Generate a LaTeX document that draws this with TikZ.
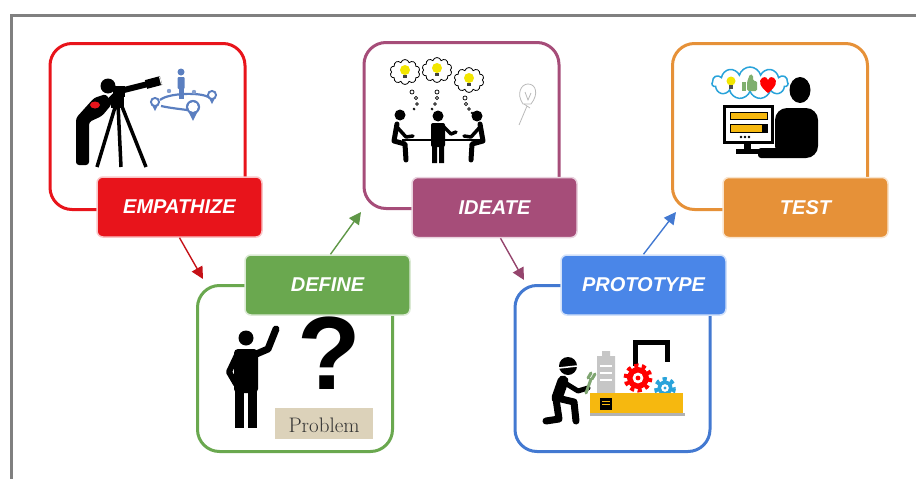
\documentclass[tikz,border=0pt]{standalone}
\usepackage{fontspec}
\usepackage{tikz}
\usetikzlibrary{arrows.meta,shapes.symbols}
\newfontfamily\tagfont{Liberation Sans}
\definecolor{empred}{HTML}{E8141B}
\definecolor{defgreen}{HTML}{6AA84F}
\definecolor{idepurple}{HTML}{A64D79}
\definecolor{problue}{HTML}{4A86E8}
\definecolor{tstorange}{HTML}{E69138}
\definecolor{pinblue}{HTML}{5B7FC0}
\definecolor{bulbyellow}{HTML}{F2E600}
\definecolor{machyellow}{HTML}{F6B80F}
\definecolor{gearblue}{HTML}{29A3DA}
\definecolor{thumbgreen}{HTML}{7FAF6E}
\definecolor{paper}{HTML}{DCD2BA}
\newcommand\mappin[3]{
	\fill[pinblue] (#1-#3*0.95,#2+#3*0.4) -- (#1,#2+#3*2.3) -- (#1+#3*0.95,#2+#3*0.4) -- cycle;
	\fill[pinblue] (#1,#2) circle (#3+1.1);
	\fill[white] (#1,#2) circle (#3-1.1);
}
\newcommand\cogwheel[4]{
	\draw[#4,line width=5,dash pattern=on 4pt off 3.5pt] (#1,#2) circle (#3);
	\fill[#4] (#1,#2) circle (#3-1);
	\fill[white] (#1,#2) circle (#3*0.45);
	\fill[#4] (#1,#2) circle (#3*0.2);
}
\newcommand\idea[2]{
	\fill[bulbyellow] (#1,#2) circle (5);
	\fill[black!75] (#1-2,#2+4.5) rectangle (#1+2,#2+8);
}
\begin{document}
\begin{tikzpicture}[x=1pt,y=-1pt]
	\tikzstyle{phasebox}=[draw,line width=3pt,rounded corners=22pt,minimum width=195pt,minimum height=166pt,inner sep=0pt]
	\tikzstyle{phasetag}=[rounded corners=6pt,minimum width=165pt,minimum height=60pt,line width=1.5pt,text=white,font=\tagfont\bfseries\itshape\fontsize{20}{24}\selectfont]
	\tikzstyle{flow}=[line width=1.4pt,-{Triangle[length=12pt,width=12pt]}]
	\useasboundingbox (0,0) rectangle (916,479);
	\draw[gray,line width=3pt] (11.5,479) -- (11.5,15.5) -- (916,15.5);

	\node[phasebox,draw=empred] (empbox) at (147.5,126.5) {};
	\node[phasebox,draw=defgreen] (defbox) at (295,368.5) {};
	\node[phasebox,draw=idepurple] (idebox) at (461.5,125.5) {};
	\node[phasebox,draw=problue!90!black] (probox) at (612.5,368.5) {};
	\node[phasebox,draw=tstorange] (tstbox) at (770,126.5) {};

	\fill (108,86) circle (7.5);
	\fill[rounded corners=3pt] (76,165) -- (76,118) -- (94,98) -- (106,94) -- (112,104) -- (102,116) -- (89,122) -- (89,165) -- cycle;
	\fill[empred] (95,105) ellipse (5 and 3.5);
	\draw[line width=5pt,line cap=round] (100,110) -- (110,100) -- (116,94);
	\fill (113,86) rectangle (125,97);
	\draw[line width=6pt] (120,91) -- (160,81);
	\draw[line width=9pt] (146,84.5) -- (161,80.5);
	\draw[white,line width=1pt] (159.5,76.5) -- (161.5,84.5);
	\fill (111,96) rectangle (124,108);
	\draw[line width=3.5pt] (116,104) -- (97,167) (118,104) -- (121,167) (121,104) -- (146,167);
	\fill[pinblue] (181,72) circle (3.5);
	\fill[pinblue,rounded corners=1pt] (177.5,77) rectangle (184.5,89);
	\fill[pinblue] (178.5,88) rectangle (183.5,99);
	\draw[pinblue,line width=2.2pt] (160,100) .. controls (168,93) and (200,92) .. (208,97);
	\draw[pinblue,line width=2.2pt] (161,106) .. controls (170,108) and (180,109) .. (187,110);
	\fill[pinblue!75] (169,91) circle (2.2) (194,92) circle (2.2);
	\mappin{193}{107}{6}
	\mappin{155}{102}{4}
	\mappin{212}{95}{4}

	\fill (246,338) circle (7.5);
	\fill[rounded corners=4pt] (234,349) rectangle (258,393);
	\fill (235,388) rectangle (244,428);
	\fill (248,388) rectangle (257,428);
	\draw[line width=7pt,line cap=round,line join=round] (254,355) -- (268,349) -- (276,329);
	\draw[line width=6pt,line cap=round,line join=round] (237,355) -- (229,372) -- (236,384);
	\node[inner sep=0pt,font=\tagfont\bfseries\fontsize{104}{106}\selectfont] (qmark) at (329,353) {?};
	\fill[paper] (275,407.5) rectangle (373,438.5);
	\node[inner sep=0pt,font=\fontsize{21}{23}\selectfont,text=black!80] (prob) at (324,425) {Problem};

	\node[cloud,draw,fill=white,line width=0.8pt,cloud puffs=10,minimum width=30pt,minimum height=25pt] (thinka) at (405,72) {};
	\node[cloud,draw,fill=white,line width=0.8pt,cloud puffs=10,minimum width=30pt,minimum height=25pt] (thinkb) at (437,70) {};
	\node[cloud,draw,fill=white,line width=0.8pt,cloud puffs=10,minimum width=30pt,minimum height=25pt] (thinkc) at (469,80) {};
	\idea{405}{70}
	\idea{437}{68}
	\idea{469}{78}
	\draw[line width=0.7pt] (412,92) circle (2) (416,98) circle (1.6) (417,104) circle (1.3) (414,109) circle (1);
	\draw[line width=0.7pt] (437,92) circle (2) (437,98) circle (1.6) (435,104) circle (1.3) (432,109) circle (1);
	\draw[line width=0.7pt] (465,98) circle (2) (466,104) circle (1.6) (469,109) circle (1.3) (472,113) circle (1);
	\fill (400,115) circle (5.5) (438,116) circle (5.5) (477,116) circle (5.5);
	\draw[line width=5pt,line cap=round,line join=round] (397,124) -- (394,141) -- (405,144) -- (406,160);
	\draw[line width=3.5pt,line cap=round,line join=round] (397,127) -- (406,137) -- (413,136);
	\draw[line width=5pt,line cap=round,line join=round] (480,124) -- (483,141) -- (472,144) -- (471,160);
	\draw[line width=3.5pt,line cap=round,line join=round] (480,127) -- (471,137) -- (464,136);
	\fill[rounded corners=2pt] (431,123) rectangle (445,147);
	\fill (432,145) rectangle (437,163) (439,145) rectangle (444,163);
	\draw[line width=3.5pt,line cap=round,line join=round] (444,127) -- (451,134) -- (456,132);
	\draw[line width=2.5pt] (402,140) -- (482,140);
	\draw[gray!55,line width=0.8pt] (523,104) .. controls (516,94) and (521,84) .. (528,84) .. controls (536,84) and (539,94) .. (531,104) -- cycle;
	\draw[gray!55,line width=0.8pt] (524,104) -- (530,108) (527,106) -- (519,125) (525,92) -- (528,100) -- (531,93);

	\fill (568,366) circle (9);
	\draw[white,line width=1.5pt] (559,368) -- (577,366);
	\draw[line width=11pt,line cap=round,line join=round] (563,381) -- (557,398);
	\draw[line width=7pt,line cap=round,line join=round] (557,398) -- (574,402) -- (576,421);
	\draw[line width=7pt,line cap=round,line join=round] (556,399) -- (559,419) -- (546,421);
	\draw[line width=5pt,line cap=round,line join=round] (565,383) -- (578,391) -- (588,388);
	\draw[thumbgreen!80!gray,line width=3pt,line cap=round] (586,393) -- (591,379) (588,378) -- (591,373) (592,379) -- (595,374);
	\fill[gray!45] (597,356) rectangle (615,393) (602,351) rectangle (610,356);
	\draw[white,line width=1.5pt] (600,366) -- (612,366) (600,373) -- (612,373) (600,380) -- (612,380);
	\draw[line width=5pt] (635,366) -- (635,342) -- (667,342) -- (667,362);
	\cogwheel{638}{378}{12}{red}
	\cogwheel{665}{388}{8.5}{gearblue}
	\fill[machyellow] (590,393) rectangle (683,413);
	\fill[gray!60] (590,413) rectangle (685,416);
	\fill (600,398) rectangle (612,410);
	\draw[machyellow,line width=0.8pt] (602,401) -- (610,401) (602,404) -- (610,404);

	\node[cloud,draw=gearblue,fill=white,line width=1.5pt,cloud puffs=11,minimum width=76pt,minimum height=32pt] (tstcloud) at (750,83) {};
	\fill[bulbyellow] (731,81) circle (4.5);
	\fill[black!70] (729,85) rectangle (733,89);
	\fill[thumbgreen] (742,82) rectangle (746,91);
	\fill[thumbgreen,rounded corners=1.5pt] (747,82) -- (750,74) -- (753,75) -- (753,81) -- (757,81) -- (757,91) -- (747,91) -- cycle;
	\fill[red] (768,93) .. controls (760,87) and (758,81) .. (762,78) .. controls (765,76) and (768,78) .. (768,80) .. controls (768,78) and (771,76) .. (774,78) .. controls (778,81) and (776,87) .. (768,93) -- cycle;
	\draw[line width=3pt,fill=white] (724,106) rectangle (772,142);
	\draw[line width=0.8pt,fill=machyellow] (730,112) rectangle (767,119);
	\draw[line width=0.8pt,fill=machyellow] (730,124) rectangle (767,132);
	\fill (762,124) rectangle (767,132);
	\fill (741,137) circle (1.3) (745,137) circle (1.3) (749,137) circle (1.3);
	\fill (744,142) rectangle (751,150);
	\fill (736,149) rectangle (778,154);
	\fill (800,90) ellipse (10.5 and 13);
	\fill[rounded corners=12pt] (775,158) -- (775,108) -- (818,108) -- (818,158) -- cycle;
	\fill[rounded corners=3pt] (758,148) rectangle (790,158);

	\node[phasetag,fill=empred,draw=empred!25] (emp) at (179.5,207) {EMPATHIZE};
	\node[phasetag,fill=defgreen,draw=defgreen!25] (def) at (327.5,285) {DEFINE};
	\node[phasetag,fill=idepurple,draw=idepurple!25] (ide) at (494.5,207.5) {IDEATE};
	\node[phasetag,fill=problue,draw=problue!25] (pro) at (643.5,285) {PROTOTYPE};
	\node[phasetag,fill=tstorange,draw=tstorange!25] (tst) at (805.5,207.5) {TEST};

	\coordinate (defin) at (203,279);
	\coordinate (idein) at (361,212);
	\coordinate (proin) at (524,280);
	\coordinate (tstin) at (676,212);
	\draw[flow,empred!85!black] (emp.south) -- (defin);
	\draw[flow,defgreen!90!black] ([xshift=3pt]def.north) -- (idein);
	\draw[flow,idepurple!90!black] ([xshift=6pt]ide.south) -- (proin);
	\draw[flow,problue!90!black] (pro.north) -- (tstin);
\end{tikzpicture}
\end{document}
